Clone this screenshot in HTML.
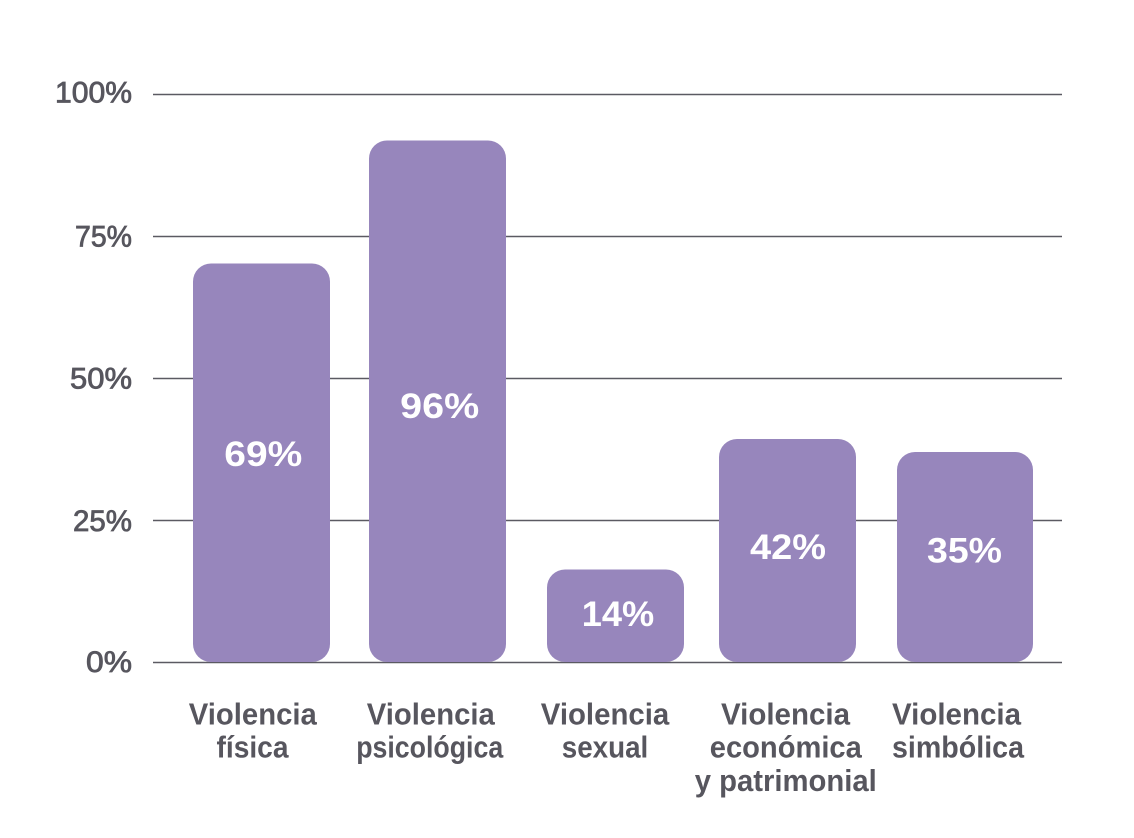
<!DOCTYPE html>
<html>
<head>
<meta charset="utf-8">
<style>
  html,body{margin:0;padding:0;background:#ffffff;}
  svg{display:block;}
  .yl{font-family:"Liberation Sans",sans-serif;font-size:29.5px;fill:#57565e;stroke:#57565e;stroke-width:0.8;}
  .cl{font-family:"Liberation Sans",sans-serif;font-size:30.5px;font-weight:bold;fill:#57565e;}
  .bv{font-family:"Liberation Sans",sans-serif;font-size:35px;font-weight:bold;fill:#ffffff;}
</style>
</head>
<body>
<svg width="1134" height="838" viewBox="0 0 1134 838" xmlns="http://www.w3.org/2000/svg">
  <rect width="1134" height="838" fill="#ffffff"/>
  <!-- gridlines -->
  <g stroke="#5b5a62" stroke-width="1.5">
    <line x1="153" y1="94.5" x2="1062" y2="94.5"/>
    <line x1="153" y1="236.5" x2="1062" y2="236.5"/>
    <line x1="153" y1="378.5" x2="1062" y2="378.5"/>
    <line x1="153" y1="520.5" x2="1062" y2="520.5"/>
    <line x1="153" y1="662.5" x2="1062" y2="662.5"/>
  </g>
  <!-- y labels -->
  <text class="yl" x="132" y="102.5" text-anchor="end" textLength="77" lengthAdjust="spacingAndGlyphs">100%</text>
  <text class="yl" x="132" y="246.5" text-anchor="end" textLength="57" lengthAdjust="spacingAndGlyphs">75%</text>
  <text class="yl" x="132" y="388.5" text-anchor="end" textLength="62" lengthAdjust="spacingAndGlyphs">50%</text>
  <text class="yl" x="132" y="531" text-anchor="end" textLength="59" lengthAdjust="spacingAndGlyphs">25%</text>
  <text class="yl" x="132" y="672" text-anchor="end" textLength="46" lengthAdjust="spacingAndGlyphs">0%</text>
  <!-- bars -->
  <g fill="#9786bc">
    <rect x="193" y="263.5" width="137" height="398.5" rx="18" ry="18"/>
    <rect x="369" y="140.5" width="137" height="521.5" rx="18" ry="18"/>
    <rect x="547" y="569.5" width="137" height="92.5" rx="18" ry="18"/>
    <rect x="719" y="439" width="137" height="223" rx="18" ry="18"/>
    <rect x="897" y="452" width="136" height="210" rx="18" ry="18"/>
  </g>
  <!-- bar values -->
  <text class="bv" x="263.3" y="466" text-anchor="middle" textLength="78" lengthAdjust="spacingAndGlyphs">69%</text>
  <text class="bv" x="439.7" y="418" text-anchor="middle" textLength="79" lengthAdjust="spacingAndGlyphs">96%</text>
  <text class="bv" x="618" y="626" text-anchor="middle" textLength="72.5" lengthAdjust="spacingAndGlyphs">14%</text>
  <text class="bv" x="788" y="559" text-anchor="middle" textLength="76" lengthAdjust="spacingAndGlyphs">42%</text>
  <text class="bv" x="964.5" y="562.5" text-anchor="middle" textLength="75" lengthAdjust="spacingAndGlyphs">35%</text>
  <!-- category labels -->
  <text class="cl" x="252.8" y="724.5" text-anchor="middle" textLength="128" lengthAdjust="spacingAndGlyphs">Violencia</text>
  <text class="cl" x="252.5" y="757.5" text-anchor="middle" textLength="72" lengthAdjust="spacingAndGlyphs">física</text>

  <text class="cl" x="430.8" y="724.5" text-anchor="middle" textLength="128" lengthAdjust="spacingAndGlyphs">Violencia</text>
  <text class="cl" x="429.7" y="757.5" text-anchor="middle" textLength="147" lengthAdjust="spacingAndGlyphs">psicológica</text>

  <text class="cl" x="605" y="724.5" text-anchor="middle" textLength="128.5" lengthAdjust="spacingAndGlyphs">Violencia</text>
  <text class="cl" x="605" y="757.5" text-anchor="middle" textLength="86.5" lengthAdjust="spacingAndGlyphs">sexual</text>

  <text class="cl" x="785.5" y="724.5" text-anchor="middle" textLength="129" lengthAdjust="spacingAndGlyphs">Violencia</text>
  <text class="cl" x="785.8" y="757.5" text-anchor="middle" textLength="152" lengthAdjust="spacingAndGlyphs">económica</text>
  <text class="cl" x="785.8" y="791" text-anchor="middle" textLength="182" lengthAdjust="spacingAndGlyphs">y patrimonial</text>

  <text class="cl" x="956.5" y="724.5" text-anchor="middle" textLength="129" lengthAdjust="spacingAndGlyphs">Violencia</text>
  <text class="cl" x="958" y="757.5" text-anchor="middle" textLength="132" lengthAdjust="spacingAndGlyphs">simbólica</text>
</svg>
</body>
</html>
